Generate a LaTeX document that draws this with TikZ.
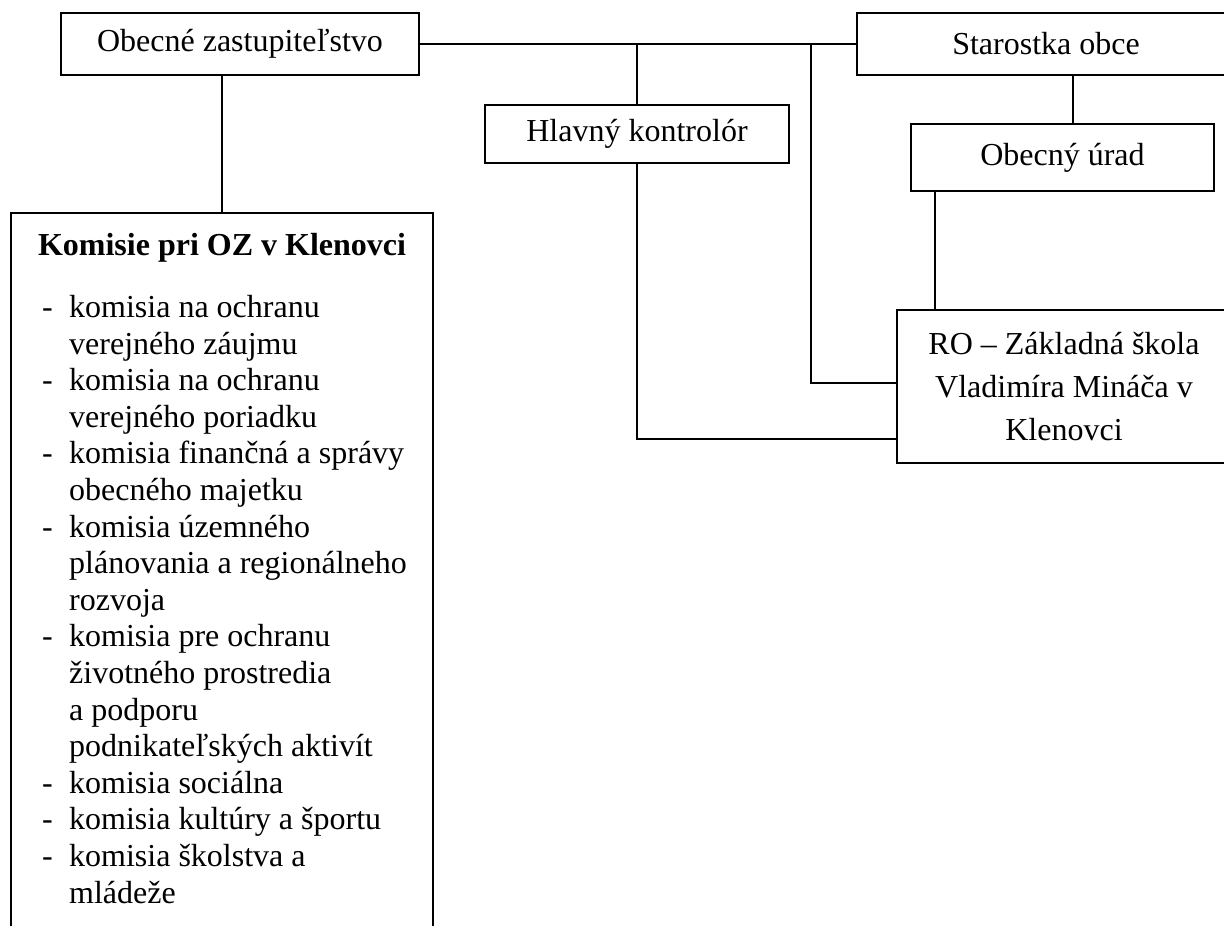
\documentclass[tikz,border=0pt]{standalone}
\usepackage{fontspec}
\setmainfont{Liberation Serif}
\usetikzlibrary{positioning,calc}

\newcommand{\dashitem}{\makebox[27pt][l]{-}}
\newcommand{\contline}{\hspace*{27pt}}

\begin{document}
\begin{tikzpicture}[
  x=1pt,y=-1pt,
  font=\fontsize{32}{36.6}\selectfont,
  unit/.style={draw=black, line width=2pt, inner sep=0pt, align=center},
  link/.style={draw=black, line width=1.8pt},
  headline/.style={font=\fontsize{32}{36.6}\selectfont\bfseries, inner sep=0pt, anchor=base},
  itemlist/.style={inner sep=0pt, align=left, anchor=base west}
]
\useasboundingbox (0,0) rectangle (1224,926);

% Top level
\node[unit, minimum width=358, minimum height=62] (oz) at (240,44) {Obecné zastupiteľstvo};
\node[unit, minimum width=378, minimum height=62] (starostka) at (1046,44) {Starostka obce};
\node[unit, minimum width=304, minimum height=58] (kontrolor) at (637,134) {Hlavný kontrolór};
\node[unit, minimum width=303, minimum height=67] (urad) at (1062.5,157.5) {Obecný úrad};
\node[unit, minimum width=334, minimum height=153, font=\fontsize{32}{43}\selectfont] (skola) at (1064,386.5)
  {RO – Základná škola\\Vladimíra Mináča v\\Klenovci};

% ================= Commissions =================
\node[unit, minimum width=422, minimum height=750] (komisie) at (222,588) {};
\node[headline] (komtitle) at (222,255) {Komisie pri OZ v Klenovci};
% base of a multi-line node is its last line
\node[itemlist] (komlist) at (42,903)
  {\dashitem komisia na ochranu\\
   \contline verejného záujmu\\
   \dashitem komisia na ochranu\\
   \contline verejného poriadku\\
   \dashitem komisia finančná a správy\\
   \contline obecného majetku\\
   \dashitem komisia územného\\
   \contline plánovania a regionálneho\\
   \contline rozvoja\\
   \dashitem komisia pre ochranu\\
   \contline životného prostredia\\
   \contline a podporu\\
   \contline podnikateľských aktivít\\
   \dashitem komisia sociálna\\
   \dashitem komisia kultúry a športu\\
   \dashitem komisia školstva a\\
   \contline mládeže};

% Connectors
\coordinate (jtop) at (811,44);
\draw[link] (oz) -- (starostka);
\draw[link] (komisie.north) -- (komisie.north |- oz.south);
\draw[link] (kontrolor.north) -- (kontrolor.north |- oz.east);
\draw[link] (kontrolor.south) |- ([yshift=-52.5pt]skola.west);
\draw[link] (jtop) |- ([yshift=3.5pt]skola.west);
\draw[link] ([xshift=10.5pt]urad.north) -- ([xshift=10.5pt]urad.north |- starostka.south);
\draw[link] ([xshift=-127.5pt]urad.south) -- ([xshift=-127.5pt]urad.south |- skola.north);

\end{tikzpicture}
\end{document}
